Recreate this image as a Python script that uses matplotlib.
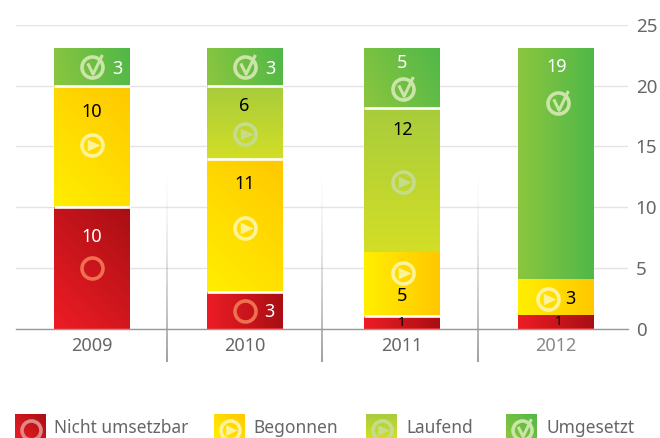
import numpy as np
import matplotlib
matplotlib.use('Agg')
import matplotlib.pyplot as plt
from matplotlib.path import Path
from matplotlib.colors import LinearSegmentedColormap

plt.rcParams['font.family'] = 'Noto Sans'

jahre = ['2009', '2010', '2011', '2012']
nicht_umsetzbar = [10, 3, 1, 1.1]
begonnen = [10, 11, 5.3, 3]
laufend = [0, 6, 11.9, 0]
umgesetzt = [3.1, 3.1, 4.9, 19]
namen = ['Nicht umsetzbar', 'Begonnen', 'Laufend', 'Umgesetzt']

# printed numbers: x in pixels, y in chart units
zahlen = [
    (117, 21.35, '3', 'white', 13), (92, 17.85, '10', 'black', 13), (92, 7.5, '10', 'white', 13),
    (270, 21.35, '3', 'white', 13), (244, 18.3, '6', 'black', 13), (245, 11.9, '11', 'black', 13),
    (269, 1.35, '3', 'white', 13), (402, 21.85, '5', 'white', 13), (402.5, 16.33, '12', 'black', 13),
    (402, 2.66, '5', 'black', 13), (402, 0.5, '1', 'black', 9.5), (557, 21.5, '19', 'white', 13),
    (570, 2.4, '3', 'black', 13), (558.5, 0.55, '1', 'black', 9.5),
]
ring_pos = [(92, 5), (244.5, 1.45)]
play_gelb_pos = [(92, 15.1), (244.5, 8.28), (402.5, 4.6), (548, 2.47)]
play_gruen_pos = [(244.5, 16), (402.5, 12.07)]
check_pos = [(92, 21.55), (244.5, 21.55), (402.5, 19.7), (558, 18.57)]

# layout
bar_x = [92, 244.5, 402, 556]
bar_w = 76
farben = [('#ed1c24', '#a80f14'), ('#ffee00', '#ffc800'), ('#d2de26', '#a8cc3c'), ('#8cc63f', '#50b848')]
winkel = [[45, 0, 0, 0], [45, 45, 0, 0], [90, 90, 90, 90], [15, 15, 30, 0]]
trenner = [[1, 1, 1, 0], [1, 1, 0, 0], [0, 1, 1, 0], [0, 0, 0, 0]]
ring_farben = {'rot': '#ef6f50', 'gelb': '#fff39a', 'lauf': '#c5dc8c', 'gruen': '#cbe5a8'}

R = 10.5
RING = dict(marker='o', mfc='none', mew=2.6, ls='none', zorder=5)
play_form = Path([(-.45, .55), (-.45, -.55), (.77, 0), (-.45, .55)], closed=True)
check_form = Path([(-.45, .39), (.06, -.65), (.94, 1.19)])


def verlauf(ax, x0, y0, w, h, pw, ph, farbe, grad, zorder=2):
    # gradient over the rectangle, direction measured in pixels
    u, v = np.meshgrid(np.linspace(0, 1, 48), np.linspace(0, 1, 48))
    c, s = np.cos(np.radians(grad)), np.sin(np.radians(grad))
    t = (c * pw * u + s * ph * v) / (c * pw + s * ph)
    cmap = LinearSegmentedColormap.from_list('v', farbe)
    ax.imshow(cmap(t), extent=(x0, x0 + w, y0, y0 + h), origin='lower', aspect='auto',
              interpolation='bilinear', zorder=zorder)


def ring(ax, x, y, farbe, r=R):
    ax.plot([x], [y], ms=2 * r * 0.72, color=farbe, mec=farbe, **RING)


def play(ax, x, y, farbe, r=R):
    ring(ax, x, y, farbe, r)
    ax.plot([x], [y], marker=play_form, ms=2 * .77 * r * 0.72, mfc=farbe, mec=farbe, mew=0, ls='none', zorder=6)


def check(ax, x, y, farbe, r=R):
    ring(ax, x, y, farbe, r)
    ax.plot([x], [y], marker=check_form, ms=2 * 1.19 * r * 0.72, mfc='none', mec=farbe, mew=2.2, ls='none', zorder=6)


fig = plt.figure(figsize=(6.6, 4.38), dpi=100)
ax = fig.add_axes([16 / 660, 1 - 328.5 / 438, 612 / 660, 303.5 / 438])

serien = [nicht_umsetzbar, begonnen, laufend, umgesetzt]
unten = np.zeros(4)
px_pro_wert = 303.5 / 25
for s, werte in enumerate(serien):
    bars = ax.bar(bar_x, werte, bar_w, bottom=unten, color=farben[s][0], zorder=2)
    for j, b in enumerate(bars):
        if b.get_height() > 0:
            verlauf(ax, b.get_x(), b.get_y(), b.get_width(), b.get_height(), bar_w,
                    b.get_height() * px_pro_wert, farben[s], winkel[s][j])
    unten = unten + np.array(werte)
    for j in range(4):
        if trenner[s][j]:
            ax.plot([bar_x[j] - bar_w / 2, bar_x[j] + bar_w / 2], [unten[j], unten[j]],
                    color='white', lw=1.9, solid_capstyle='butt', zorder=4)

for x, y, txt, col, gr in zahlen:
    ax.text(x, y, txt, color=col, fontsize=gr, ha='center', va='center', zorder=7)
for x, y in ring_pos:
    ring(ax, x, y, ring_farben['rot'])
for x, y in play_gelb_pos:
    play(ax, x, y, ring_farben['gelb'])
for x, y in play_gruen_pos:
    play(ax, x, y, ring_farben['lauf'])
for x, y in check_pos:
    check(ax, x, y, ring_farben['gruen'])

# separators between the years fade out to the top
fade = np.ones((64, 1, 4))
fade[:, 0, :3] = 0.6
fade[:, 0, 3] = np.linspace(0.95, 0.0, 64) ** 1.6
for x in [167, 322, 478]:
    im = ax.imshow(fade, extent=(x - 0.8, x + 0.8, -2.75, 13.5), origin='lower', aspect='auto', zorder=1)
    im.set_clip_on(False)

ax.set_xlim(16, 628)
ax.set_ylim(0, 25)
ax.set_yticks([0, 5, 10, 15, 20, 25])
ax.yaxis.tick_right()
ax.grid(axis='y', color='#e4e4e4', lw=1.0, zorder=0)
ax.set_axisbelow(True)
ax.set_xticks(bar_x)
ax.set_xticklabels(jahre)
ax.tick_params(axis='x', length=0, pad=6, labelsize=13, labelcolor='#666666')
ax.tick_params(axis='y', length=0, pad=5.5, labelsize=13.5, labelcolor='#666666')
ax.get_xticklabels()[3].set_color('#888888')
for name in ['top', 'left', 'right']:
    ax.spines[name].set_visible(False)
ax.spines['bottom'].set_color('#999999')
ax.spines['bottom'].set_linewidth(1.0)
ax.patch.set_alpha(0)

# legend, drawn in pixels
lg = fig.add_axes([0, 0, 1, 1])
lg.set_xlim(0, 660)
lg.set_ylim(438, 0)
lg.axis('off')
leg_x = [15, 214, 366, 506]
text_x = [54, 253, 406, 546]
leg_win = [45, 45, 90, 45]
leg_ico = ['#e08888', '#fff39a', '#c5dc8c', '#cbe5a8']
for i in range(4):
    verlauf(lg, leg_x[i], 438, 31, -24, 31, 24, farben[i], leg_win[i])
    cx, cy = leg_x[i] + 15.5, 429.5
    if i == 0:
        ring(lg, cx, cy, leg_ico[i], 9.5)
    elif i == 3:
        check(lg, cx, cy, leg_ico[i], 9.5)
    else:
        play(lg, cx, cy, leg_ico[i], 9.5)
    lg.text(text_x[i], 428, namen[i], fontsize=12.5, color='#666666', va='center', ha='left')
lg.set_xlim(0, 660)
lg.set_ylim(438, 0)

fig.savefig('out.png', dpi=100)
